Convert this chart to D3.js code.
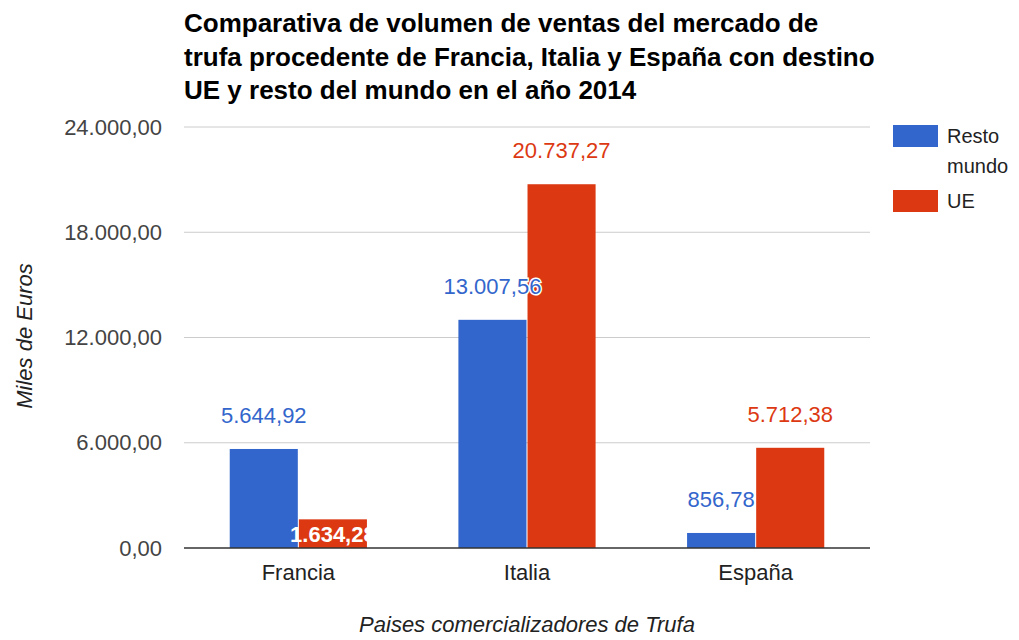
<!DOCTYPE html>
<html>
<head>
<meta charset="utf-8">
<script src="https://cdn.jsdelivr.net/npm/d3@7"></script>
<style>
  body { margin: 0; background: #fff; }
  svg { font-family: "Liberation Sans", Arial, sans-serif; }
</style>
</head>
<body>
<svg id="chart" width="1019" height="640"></svg>
<script>
// Datos
const paises = ["Francia", "Italia", "España"];
const series = ["Resto mundo", "UE"];
const restoMundo = [5644.92, 13007.56, 856.78];
const ue = [1634.28, 20737.27, 5712.38];
const ticksY = [0, 6000, 12000, 18000, 24000];
const colores = ["#3366cc", "#dc3912"];

const svg = d3.select("#chart");
const margin = { left: 184, right: 149, top: 127, bottom: 92 };
const W = 1019, H = 640;

const locale = d3.formatLocale({ decimal: ",", thousands: ".", grouping: [3], currency: ["", "€"] });
const fmt = locale.format(",.2f");

const x = d3.scaleBand()
    .domain(paises)
    .range([margin.left, W - margin.right])
    .paddingInner(0.4)
    .paddingOuter(0.2);

const xs = d3.scaleBand()
    .domain(series)
    .range([0, x.bandwidth()])
    .paddingInner(0.015);

const y = d3.scaleLinear()
    .domain([0, 24000])
    .range([H - margin.bottom, margin.top]);

// Titulo
const titulo = [
    "Comparativa de volumen de ventas del mercado de",
    "trufa procedente de Francia, Italia y España con destino",
    "UE y resto del mundo en el año 2014"
];
svg.append("g").selectAll("text")
    .data(titulo)
    .enter().append("text")
    .attr("x", 184)
    .attr("y", (d, i) => 32 + i * 33.5)
    .attr("font-size", 26)
    .attr("font-weight", "bold")
    .attr("fill", "#000")
    .text(d => d);

// Rejilla y eje Y
const yAxis = d3.axisLeft(y).tickValues(ticksY).tickFormat(fmt).tickSize(0).tickPadding(22);
const gy = svg.append("g").attr("transform", `translate(${margin.left},0)`).call(yAxis);
gy.select(".domain").remove();
gy.selectAll("text").attr("font-size", 22).attr("fill", "#444").attr("font-family", "Liberation Sans, Arial, sans-serif");

svg.append("g").selectAll("line")
    .data(ticksY.filter(d => d > 0))
    .enter().append("line")
    .attr("x1", margin.left).attr("x2", W - margin.right)
    .attr("y1", d => y(d)).attr("y2", d => y(d))
    .attr("stroke", "#cccccc");

// Barras
const datos = paises.map((p, i) => ({ pais: p, valores: [restoMundo[i], ue[i]] }));
const grupos = svg.append("g").selectAll("g")
    .data(datos)
    .enter().append("g")
    .attr("transform", d => `translate(${x(d.pais)},0)`);

grupos.selectAll("rect")
    .data(d => d.valores.map((v, j) => ({ serie: series[j], v: v, j: j })))
    .enter().append("rect")
    .attr("x", d => xs(d.serie))
    .attr("y", d => y(d.v))
    .attr("width", xs.bandwidth())
    .attr("height", d => y(0) - y(d.v))
    .attr("fill", d => colores[d.j]);

// Etiquetas de valor
const dentro = d => y(0) - y(d.v) < 50 && d.j === 1;
grupos.selectAll("text.lbl")
    .data(d => d.valores.map((v, j) => ({ serie: series[j], v: v, j: j })))
    .enter().append("text")
    .attr("class", "lbl")
    .attr("x", d => xs(d.serie) + xs.bandwidth() / 2)
    .attr("y", d => dentro(d) ? y(d.v) + 23 : y(d.v) - 26)
    .attr("text-anchor", "middle")
    .attr("font-size", 22)
    .attr("font-weight", d => dentro(d) ? "bold" : "normal")
    .attr("fill", d => dentro(d) ? "#fff" : colores[d.j])
    .attr("stroke", d => dentro(d) ? "none" : "#fff")
    .attr("stroke-width", 3)
    .attr("paint-order", "stroke")
    .text(d => fmt(d.v));

// Linea base
svg.append("line")
    .attr("x1", margin.left).attr("x2", W - margin.right)
    .attr("y1", y(0)).attr("y2", y(0))
    .attr("stroke", "#333").attr("stroke-width", 1.5);

// Eje X
const gx = svg.append("g").attr("transform", `translate(0,${y(0)})`)
    .call(d3.axisBottom(x).tickSize(0).tickPadding(16));
gx.select(".domain").remove();
gx.selectAll("text").attr("font-size", 22).attr("fill", "#222").attr("font-family", "Liberation Sans, Arial, sans-serif");

// Titulos de ejes
svg.append("text")
    .attr("x", (margin.left + W - margin.right) / 2)
    .attr("y", 632)
    .attr("text-anchor", "middle")
    .attr("font-size", 22)
    .attr("font-style", "italic")
    .attr("fill", "#222")
    .text("Paises comercializadores de Trufa");

svg.append("text")
    .attr("transform", "translate(32,336) rotate(-90)")
    .attr("text-anchor", "middle")
    .attr("font-size", 22)
    .attr("font-style", "italic")
    .attr("fill", "#222")
    .text("Miles de Euros");

// Leyenda
const leyenda = svg.append("g");
leyenda.append("rect").attr("x", 893).attr("y", 125).attr("width", 45).attr("height", 22).attr("fill", colores[0]);
leyenda.append("text").attr("x", 947).attr("y", 143).attr("font-size", 20).attr("fill", "#222").text("Resto");
leyenda.append("text").attr("x", 947).attr("y", 173).attr("font-size", 20).attr("fill", "#222").text("mundo");
leyenda.append("rect").attr("x", 893).attr("y", 190).attr("width", 45).attr("height", 22).attr("fill", colores[1]);
leyenda.append("text").attr("x", 947).attr("y", 208).attr("font-size", 20).attr("fill", "#222").text("UE");
</script>
</body>
</html>
